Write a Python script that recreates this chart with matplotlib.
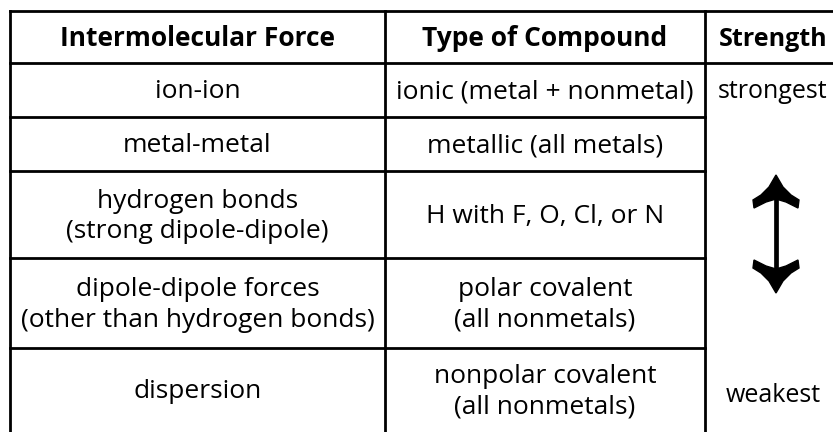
import matplotlib
matplotlib.use("Agg")
import matplotlib.pyplot as plt
from matplotlib.patches import Polygon

plt.rcParams['font.family'] = ['Open Sans', 'DejaVu Sans']

# table content
headers = ["Intermolecular Force", "Type of Compound", "Strength"]
forces = ["ion-ion", "metal-metal", "hydrogen bonds\n(strong dipole-dipole)",
          "dipole-dipole forces\n(other than hydrogen bonds)", "dispersion"]
compounds = ["ionic (metal + nonmetal)", "metallic (all metals)", "H with F, O, Cl, or N",
             "polar covalent\n(all nonmetals)", "nonpolar covalent\n(all nonmetals)"]
strength_top = "strongest"
strength_bottom = "weakest"

# layout in pixels
W, H = 833, 432
col_x = [10, 385, 705, 842]
row_y = [11, 63, 117, 171, 258, 348, 440]

fig = plt.figure(figsize=(W / 100, H / 100), dpi=100)
ax = fig.add_axes([0, 0, 1, 1])
ax.set_xlim(0, W)
ax.set_ylim(H, 0)
ax.axis('off')

lw = 2.0
# horizontal lines
ax.plot([col_x[0], col_x[3]], [row_y[0], row_y[0]], color='black', lw=lw)
ax.plot([col_x[0], col_x[3]], [row_y[1], row_y[1]], color='black', lw=lw)
for y in row_y[2:-1]:
    ax.plot([col_x[0], col_x[2]], [y, y], color='black', lw=lw)
# vertical lines
for x in col_x[:3]:
    ax.plot([x, x], [row_y[0], H + 5], color='black', lw=lw)

fs = 19
cx = [(col_x[i] + col_x[i + 1]) / 2 for i in range(3)]
cx[2] = 773
for i, h in enumerate(headers):
    ax.text(cx[i], (row_y[0] + row_y[1]) / 2 + 2, h, ha='center', va='center',
            fontsize=fs if i < 2 else 18, fontweight='bold')

for r in range(5):
    yc = (row_y[r + 1] + row_y[r + 2]) / 2 + 2 if r < 4 else 392
    ax.text(cx[0], yc, forces[r], ha='center', va='center', fontsize=fs, linespacing=1.27)
    ax.text(cx[1], yc, compounds[r], ha='center', va='center', fontsize=fs, linespacing=1.27)

ax.text(cx[2], 91, strength_top, ha='center', va='center', fontsize=18)
ax.text(cx[2], 396, strength_bottom, ha='center', va='center', fontsize=18)

# double arrow: shaft + barbed heads
ax_x, top, bot = 776, 175, 293
ax.plot([ax_x, ax_x], [top + 10, bot - 10], color='black', lw=3.4, solid_capstyle='butt')
head = [(0, 0), (-7, 12), (-15, 20), (-23, 25), (-22, 33), (-10, 27), (0, 24),
        (10, 27), (22, 33), (23, 25), (15, 20), (7, 12)]
ax.add_patch(Polygon([(ax_x + dx, top + dy) for dx, dy in head], closed=True, color='black'))
ax.add_patch(Polygon([(ax_x + dx, bot - dy) for dx, dy in head], closed=True, color='black'))

fig.savefig('out.png', dpi=100)
